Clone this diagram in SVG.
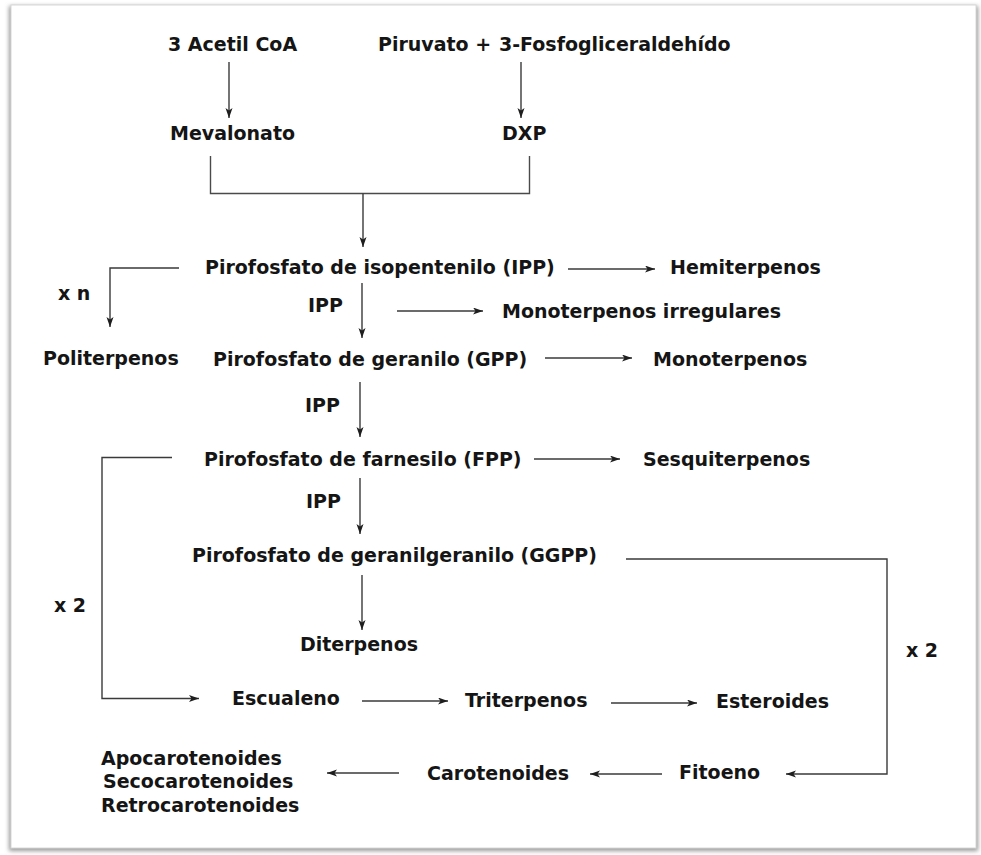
<svg xmlns="http://www.w3.org/2000/svg" width="981" height="855" viewBox="0 0 981 855">
  <defs>
    <filter id="shadow" x="-5%" y="-5%" width="110%" height="110%">
      <feGaussianBlur stdDeviation="2"/>
    </filter>
    <marker id="ah" markerUnits="userSpaceOnUse" markerWidth="11" markerHeight="8" refX="10" refY="3.5" orient="auto">
      <path d="M0,0 L10,3.5 L0,7 L2.5,3.5 z" fill="#1e1e1e"/>
    </marker>
  </defs>
  <style>
    text { font-family: "DejaVu Sans", Verdana, sans-serif; font-weight: bold; font-size: 19px; fill: #151515; }
    .ln { fill: none; stroke: #4a4a4a; stroke-width: 1.4; }
    .ar { fill: none; stroke: #3a3a3a; stroke-width: 1.4; marker-end: url(#ah); }
  </style>
  <rect x="0" y="0" width="981" height="855" fill="#ffffff"/>
  <!-- frame -->
  <g id="frame">
    <rect x="9" y="6" width="969" height="845" fill="#9a9a9a" filter="url(#shadow)"/>
    <rect x="11" y="5" width="965" height="843" fill="#ffffff" stroke="#d8d8d8" stroke-width="1"/>
  </g>

  <g id="connectors">
    <line class="ar" x1="229" y1="62" x2="229" y2="118"/>
    <line class="ar" x1="521" y1="62" x2="521" y2="118"/>
    <path class="ln" d="M210.5,156 V193.5 H529.5 V156"/>
    <line class="ar" x1="363" y1="193.5" x2="363" y2="247"/>
    <line class="ar" x1="568" y1="269" x2="655" y2="269"/>
    <path class="ar" d="M179,268 H110 V327"/>
    <line class="ar" x1="362" y1="283" x2="362" y2="338"/>
    <line class="ar" x1="397" y1="311" x2="483" y2="311"/>
    <line class="ar" x1="545" y1="358" x2="632" y2="358"/>
    <line class="ar" x1="360" y1="382" x2="360" y2="437"/>
    <path class="ar" d="M172,457.5 H102 V698.5 H199"/>
    <line class="ar" x1="534" y1="459" x2="620" y2="459"/>
    <line class="ar" x1="360" y1="478" x2="360" y2="534"/>
    <line class="ar" x1="362" y1="575" x2="362" y2="630"/>
    <path class="ar" d="M626,559 H887 V774 H786"/>
    <line class="ar" x1="362" y1="701" x2="448" y2="701"/>
    <line class="ar" x1="611" y1="703" x2="697" y2="703"/>
    <line class="ar" x1="662" y1="774" x2="590" y2="774"/>
    <line class="ar" x1="399" y1="773" x2="327" y2="773"/>
  </g>

  <g id="acetil"><text x="168" y="51">3 Acetil CoA</text></g>
  <g id="piruvato"><text x="378" y="51">Piruvato +<tspan x="499">3-Fosfogliceraldehído</tspan></text></g>
  <g id="mevalonato"><text x="170" y="140">Mevalonato</text></g>
  <g id="dxp"><text x="502" y="140">DXP</text></g>
  <g id="ipp"><text x="205" y="274">Pirofosfato de isopentenilo (IPP)</text></g>
  <g id="hemiterpenos"><text x="670" y="274">Hemiterpenos</text></g>
  <g id="label-xn"><text x="58" y="300">x n</text></g>
  <g id="label-ipp1"><text x="308" y="312">IPP</text></g>
  <g id="monoirr"><text x="502" y="318">Monoterpenos irregulares</text></g>
  <g id="politerpenos"><text x="43" y="365">Politerpenos</text></g>
  <g id="gpp"><text x="213" y="366">Pirofosfato de geranilo (GPP)</text></g>
  <g id="monoterpenos"><text x="653" y="366">Monoterpenos</text></g>
  <g id="label-ipp2"><text x="305" y="412">IPP</text></g>
  <g id="fpp"><text x="204" y="466">Pirofosfato de farnesilo (FPP)</text></g>
  <g id="sesquiterpenos"><text x="643" y="466">Sesquiterpenos</text></g>
  <g id="label-ipp3"><text x="306" y="508">IPP</text></g>
  <g id="ggpp"><text x="192" y="562">Pirofosfato de geranilgeranilo (GGPP)</text></g>
  <g id="label-x2-left"><text x="54" y="612">x 2</text></g>
  <g id="diterpenos"><text x="300" y="651">Diterpenos</text></g>
  <g id="label-x2-right"><text x="906" y="657">x 2</text></g>
  <g id="escualeno"><text x="232" y="705">Escualeno</text></g>
  <g id="triterpenos"><text x="465" y="707">Triterpenos</text></g>
  <g id="esteroides"><text x="716" y="708">Esteroides</text></g>
  <g id="apocarotenoides">
    <text x="101" y="765">Apocarotenoides</text>
    <text x="103" y="788">Secocarotenoides</text>
    <text x="101" y="812">Retrocarotenoides</text>
  </g>
  <g id="carotenoides"><text x="427" y="780">Carotenoides</text></g>
  <g id="fitoeno"><text x="679" y="779">Fitoeno</text></g>
</svg>
